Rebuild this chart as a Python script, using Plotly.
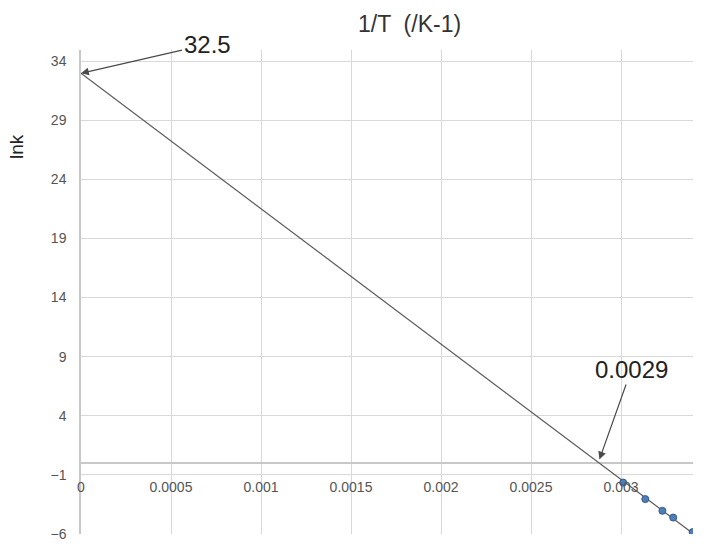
import plotly.graph_objects as go

# ---- data ----
inv_T = [0.003012, 0.003135, 0.00323, 0.00329, 0.003398]
ln_k = [-1.65, -3.05, -4.04, -4.61, -5.84]

trend_x = [-0.00005, 0.0034]
trend_y = [33.53, -5.96]

x_ticks = [0, 0.0005, 0.001, 0.0015, 0.002, 0.0025, 0.003]
x_tick_labels = ["0", "0.0005", "0.001", "0.0015", "0.002", "0.0025", "0.003"]
y_ticks = [-6, -1, 4, 9, 14, 19, 24, 29, 34]

x_range = [0, 0.0034]
y_range = [-6, 34.93]

intercept_label = "32.5"
intercept_point = (0.0, 32.96)
root_label = "0.0029"
root_point = (0.00288, 0.3)

x_title = "1/T  (/K-1)"
y_title = "lnk"

# ---- figure ----
W, H = 715, 549
ML, MR, MT, MB = 81, 22, 50, 15

fig = go.Figure()

fig.add_trace(go.Scatter(
    x=trend_x, y=trend_y, mode="lines",
    line=dict(color="#5a5a5a", width=1.2),
    hoverinfo="skip", showlegend=False,
))
fig.add_trace(go.Scatter(
    x=inv_T, y=ln_k, mode="markers",
    marker=dict(size=7, color="#4f7db8", line=dict(color="#34598a", width=1)),
    showlegend=False,
))

# position of the y = 0 line on the paper, where the x axis crosses
x_axis_pos = (0 - y_range[0]) / (y_range[1] - y_range[0])

plot_w = W - ML - MR
plot_h = H - MT - MB


def px_to_paper(px, py):
    return (px - ML) / plot_w, (H - py - MB) / plot_h


title_x, title_y = px_to_paper(409, 24)
ylab_x, ylab_y = px_to_paper(16, 147)

fig.update_layout(
    width=W, height=H,
    margin=dict(l=ML, r=MR, t=MT, b=MB, autoexpand=False),
    paper_bgcolor="white", plot_bgcolor="white",
    font=dict(family="Liberation Sans, Arial, sans-serif", color="#555555"),
    xaxis=dict(
        range=x_range,
        tickvals=x_ticks, ticktext=x_tick_labels,
        showgrid=True, gridcolor="#d9d9d9", gridwidth=1,
        zeroline=False,
        showline=False,
        anchor="free", position=x_axis_pos,
        ticks="", ticklabelstandoff=14,
        automargin=False,
        tickfont=dict(size=14, color="#555555"),
    ),
    yaxis=dict(
        range=y_range,
        tickvals=y_ticks,
        showgrid=True, gridcolor="#d9d9d9", gridwidth=1,
        zeroline=True, zerolinecolor="#c8c8c8", zerolinewidth=1.5,
        showline=True, linecolor="#c8c8c8", linewidth=1.5,
        ticks="", ticklabelstandoff=10,
        automargin=False,
        tickfont=dict(size=14, color="#555555"),
    ),
    annotations=[
        dict(
            x=intercept_point[0], y=intercept_point[1], xref="x", yref="y",
            text=intercept_label, showarrow=True,
            ax=126, ay=-29,
            arrowhead=2, arrowsize=1.3, arrowwidth=1.2, arrowcolor="#4a4a4a",
            font=dict(size=24, color="#222222", family="Liberation Sans, Arial, sans-serif"),
        ),
        dict(
            x=root_point[0], y=root_point[1], xref="x", yref="y",
            text=root_label, showarrow=True,
            ax=32, ay=-90,
            arrowhead=2, arrowsize=1.3, arrowwidth=1.2, arrowcolor="#4a4a4a",
            font=dict(size=24, color="#222222", family="Liberation Sans, Arial, sans-serif"),
        ),
        dict(
            x=title_x, y=title_y, xref="paper", yref="paper",
            xanchor="center", yanchor="middle",
            text=x_title, showarrow=False,
            font=dict(size=23, color="#333333"),
        ),
        dict(
            x=ylab_x, y=ylab_y, xref="paper", yref="paper",
            xanchor="center", yanchor="middle",
            text=y_title, showarrow=False, textangle=-90,
            font=dict(size=19, color="#222222"),
        ),
    ],
)

fig.write_html(
    "out.html",
    config={"displayModeBar": False},
    post_script="document.body.style.margin='0';",
)
